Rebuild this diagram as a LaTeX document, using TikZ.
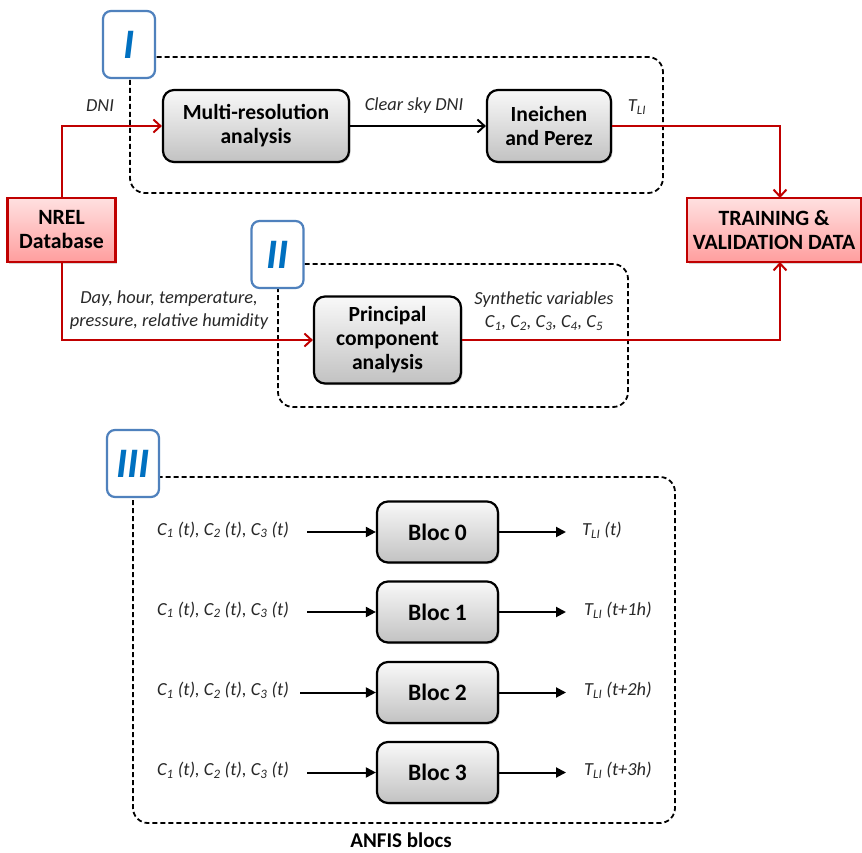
\documentclass[tikz,border=0pt]{standalone}
\usepackage{fontspec}
\setmainfont{Carlito}
\usetikzlibrary{arrows.meta,shadows}
\definecolor{darkred}{RGB}{192,0,0}
\definecolor{markblue}{RGB}{79,129,189}
\definecolor{numblue}{RGB}{0,112,192}
\definecolor{labelgray}{RGB}{40,40,40}
\begin{document}
\begin{tikzpicture}[x=1pt,y=-1pt,
  graybox/.style={draw=black, line width=2.2pt, rounded corners=11pt,
    top color=gray!5, bottom color=gray!48,
    drop shadow={opacity=0.35, shadow xshift=1.5pt, shadow yshift=-1.5pt},
    font=\bfseries\fontsize{21.6}{24}\selectfont, align=center, inner sep=0pt},
  blocbox/.style={graybox, font=\bfseries\fontsize{23.5}{25}\selectfont,
    minimum width=121pt, minimum height=61pt},
  redbox/.style={draw=darkred, line width=2.4pt,
    top color=red!12, bottom color=red!38,
    drop shadow={opacity=0.3, shadow xshift=1.5pt, shadow yshift=-1.5pt},
    font=\bfseries\fontsize{21.8}{24}\selectfont, align=center, inner sep=0pt},
  markbox/.style={draw=markblue, line width=2.2pt, rounded corners=8pt, fill=white,
    text=numblue, font=\bfseries\itshape\fontsize{42}{42}\selectfont,
    minimum width=52pt, minimum height=67pt, inner sep=0pt},
  dashbox/.style={draw=black, line width=1.8pt, rounded corners=15pt,
    dash pattern=on 5pt off 3pt},
  lbl/.style={font=\itshape\fontsize{18.4}{23}\selectfont, text=labelgray, align=center, inner sep=0pt},
  redline/.style={draw=darkred, line width=2pt, -{Straight Barb[length=7pt,width=13pt,line width=2pt]}},
  openarrow/.style={draw=black, line width=2pt, -{Straight Barb[length=7pt,width=13pt,line width=2pt]}},
  filledarrow/.style={draw=black, line width=2pt, -{Triangle[length=10pt,width=10pt]}},
  title/.style={font=\bfseries\fontsize{21}{23}\selectfont, inner sep=0pt}
]
\useasboundingbox (0,0) rectangle (862,853);
\fill[white] (0,0) rectangle (862,853);

% dashed group frames
\draw[dashbox] (130,57) rectangle (663,193);
\draw[dashbox] (278,264) rectangle (628,407);
\draw[dashbox] (133,477) rectangle (675,823);

% markers
\node[markbox] (m1) at (129,44.5) {I};
\node[markbox] (m2) at (277.5,254.5) {II};
\node[markbox] (m3) at (133,463.5) {III};

% boxes
\node[graybox, minimum width=186pt, minimum height=72pt] (mra) at (256,126) {Multi-resolution\\analysis};
\node[graybox, minimum width=124pt, minimum height=72pt] (ine) at (549,126) {Ineichen\\and Perez};
\node[graybox, minimum width=147pt, minimum height=87pt] (pca) at (387.5,340) {Principal\\component\\analysis};
\node[redbox, minimum width=108pt, minimum height=64pt] (nrel) at (61.5,230) {NREL\\Database};
\node[redbox, minimum width=174pt, minimum height=64pt] (train) at (774,230) {TRAINING \&\\VALIDATION DATA};

\node[blocbox] (b0) at (437.5,532) {Bloc 0};
\node[blocbox] (b1) at (437.5,612) {Bloc 1};
\node[blocbox] (b2) at (437.5,692.5) {Bloc 2};
\node[blocbox] (b3) at (437.5,772.5) {Bloc 3};

% connectors, top part
\draw[redline] (nrel.north) |- (mra.west);
\draw[redline] (nrel.south) |- (pca.west);
\draw[openarrow] (mra.east) -- (ine.west);
\coordinate (tin) at (780,198);
\coordinate (tib) at (780,262);
\draw[redline] (ine.east) -| (tin);
\draw[redline] (pca.east) -| (tib);

% labels, top part
\node[lbl] (ldni) at (100,106) {DNI};
\node[lbl] (lcs) at (414,106) {Clear sky DNI};
\node[lbl] (ltli) at (637,107) {T\textsubscript{LI}};
\node[lbl] (lday) at (169,310) {Day, hour, temperature,\\pressure, relative humidity};
\node[lbl] (lsyn) at (544,311) {Synthetic variables\\C\textsubscript{1}, C\textsubscript{2}, C\textsubscript{3}, C\textsubscript{4}, C\textsubscript{5}};

% ANFIS part
\coordinate (s0) at (307,532);
\coordinate (s1) at (307,612);
\coordinate (s2) at (300,692.5);
\coordinate (s3) at (307,772.5);
\coordinate (e0) at (566,532);
\coordinate (e1) at (566,612);
\coordinate (e2) at (566,692.5);
\coordinate (e3) at (566,772.5);
\draw[filledarrow] (s0) -- (b0.west);
\draw[filledarrow] (s1) -- (b1.west);
\draw[filledarrow] (s2) -- (b2.west);
\draw[filledarrow] (s3) -- (b3.west);
\draw[filledarrow] (b0.east) -- (e0);
\draw[filledarrow] (b1.east) -- (e1);
\draw[filledarrow] (b2.east) -- (e2);
\draw[filledarrow] (b3.east) -- (e3);

\node[lbl] (i0) at (223,530) {C\textsubscript{1} (t), C\textsubscript{2} (t), C\textsubscript{3} (t)};
\node[lbl] (i1) at (223,610) {C\textsubscript{1} (t), C\textsubscript{2} (t), C\textsubscript{3} (t)};
\node[lbl] (i2) at (223,690.5) {C\textsubscript{1} (t), C\textsubscript{2} (t), C\textsubscript{3} (t)};
\node[lbl] (i3) at (223,770.5) {C\textsubscript{1} (t), C\textsubscript{2} (t), C\textsubscript{3} (t)};

\node[lbl, anchor=west] (o0) at (582,530) {T\textsubscript{LI} (t)};
\node[lbl, anchor=west] (o1) at (584,610) {T\textsubscript{LI} (t+1h)};
\node[lbl, anchor=west] (o2) at (584,690.5) {T\textsubscript{LI} (t+2h)};
\node[lbl, anchor=west] (o3) at (584,770.5) {T\textsubscript{LI} (t+3h)};

\node[title] (anfis) at (401,840) {ANFIS blocs};
\end{tikzpicture}
\end{document}
